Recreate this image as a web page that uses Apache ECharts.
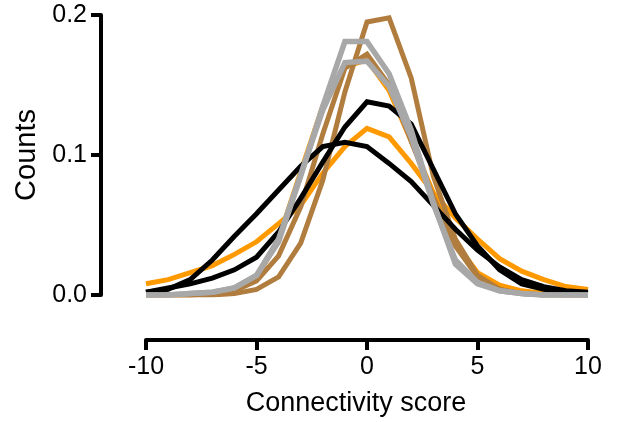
<!DOCTYPE html>
<html>
<head>
<meta charset="utf-8">
<script src="https://cdn.jsdelivr.net/npm/echarts@6/dist/echarts.min.js"></script>
<style>
  html, body { margin: 0; padding: 0; background: #fff; }
  #chart { width: 624px; height: 422px; }
</style>
</head>
<body>
<div id="chart"></div>
<script>
// connectivity score bins
const scores = [-10, -9, -8, -7, -6, -5, -4, -3, -2, -1, 0, 1, 2, 3, 4, 5, 6, 7, 8, 9, 10]

const orangeWide = [0.008, 0.011, 0.016, 0.021, 0.029, 0.038, 0.051, 0.064, 0.087, 0.106, 0.119, 0.113, 0.094, 0.073, 0.055, 0.040, 0.026, 0.017, 0.011, 0.006, 0.004]
const orangeNarrow = [0, 0, 0, 0.001, 0.005, 0.012, 0.040, 0.088, 0.135, 0.163, 0.168, 0.146, 0.110, 0.073, 0.037, 0.016, 0.007, 0.003, 0.001, 0, 0]
const brownTall = [0, 0, 0, 0, 0.001, 0.004, 0.013, 0.037, 0.082, 0.145, 0.195, 0.198, 0.155, 0.085, 0.040, 0.014, 0.004, 0.001, 0, 0, 0]
const brownShort = [0, 0, 0, 0.001, 0.003, 0.010, 0.028, 0.063, 0.115, 0.162, 0.172, 0.150, 0.110, 0.070, 0.035, 0.013, 0.004, 0.001, 0, 0, 0]
const blackNarrow = [0.002, 0.005, 0.008, 0.012, 0.018, 0.027, 0.045, 0.069, 0.095, 0.120, 0.138, 0.135, 0.122, 0.090, 0.058, 0.035, 0.018, 0.008, 0.004, 0.002, 0.001]
const blackWide = [0.002, 0.004, 0.011, 0.025, 0.042, 0.058, 0.075, 0.092, 0.106, 0.109, 0.106, 0.094, 0.081, 0.064, 0.047, 0.032, 0.020, 0.011, 0.006, 0.003, 0.002]
const grayTall = [0, 0, 0.001, 0.002, 0.005, 0.014, 0.038, 0.085, 0.135, 0.181, 0.181, 0.158, 0.118, 0.066, 0.022, 0.008, 0.003, 0.001, 0, 0, 0]
const grayShort = [0, 0, 0.001, 0.002, 0.005, 0.014, 0.040, 0.086, 0.132, 0.166, 0.167, 0.149, 0.113, 0.065, 0.025, 0.009, 0.003, 0.001, 0, 0, 0]

const xTicks = [-10, -5, 0, 5, 10]
const yTicks = [0.0, 0.1, 0.2]

const font = 'Liberation Sans, Arial, sans-serif'

function line(values, color, width) {
  return {
    type: 'line',
    data: scores.map((s, i) => [s, values[i]]),
    showSymbol: false,
    symbol: 'none',
    lineStyle: { color: color, width: width, join: 'miter' },
    silent: true
  }
}

const chart = echarts.init(document.getElementById('chart'), null, { renderer: 'canvas' })
chart.setOption({
  animation: false,
  backgroundColor: '#fff',
  grid: { left: 146, right: 36, top: 15, bottom: 127, containLabel: false, outerBoundsMode: 'none' },
  xAxis: {
    type: 'value',
    min: xTicks[0],
    max: xTicks[xTicks.length - 1],
    interval: 5,
    offset: 45,
    name: 'Connectivity score',
    nameLocation: 'middle',
    nameGap: 50,
    nameTextStyle: { color: '#000', fontSize: 27, fontFamily: font, padding: [0, 22, 0, 0] },
    axisLine: { show: true, onZero: false, lineStyle: { color: '#000', width: 4 } },
    axisTick: { show: true, length: 10, lineStyle: { color: '#000', width: 4 } },
    axisLabel: { color: '#000', fontSize: 25, fontFamily: font, margin: 15 },
    splitLine: { show: false }
  },
  yAxis: {
    type: 'value',
    min: yTicks[0],
    max: yTicks[yTicks.length - 1],
    interval: 0.1,
    offset: 45,
    name: 'Counts',
    nameLocation: 'middle',
    nameGap: 59,
    nameTextStyle: { color: '#000', fontSize: 29, fontFamily: font },
    axisLine: { show: true, onZero: false, lineStyle: { color: '#000', width: 4 } },
    axisTick: { show: true, length: 10, lineStyle: { color: '#000', width: 4 } },
    axisLabel: { color: '#000', fontSize: 25, fontFamily: font, margin: 14, formatter: v => v.toFixed(1) },
    splitLine: { show: false }
  },
  series: [
    line(orangeWide, '#ff9900', 5),
    line(orangeNarrow, '#ff9900', 5),
    line(brownTall, '#b07d3e', 5),
    line(brownShort, '#b07d3e', 5),
    line(blackNarrow, '#000000', 5),
    line(blackWide, '#000000', 5),
    line(grayTall, '#a8a8a8', 5.5),
    line(grayShort, '#a8a8a8', 5.5)
  ]
})
</script>
</body>
</html>
